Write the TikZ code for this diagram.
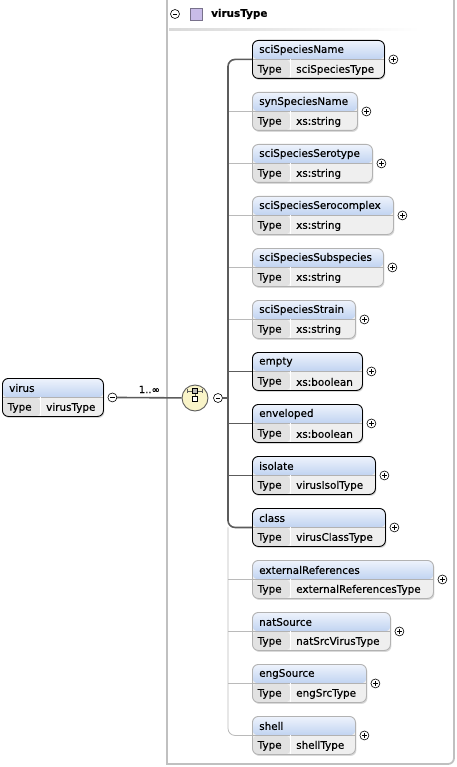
\documentclass[tikz,border=0pt]{standalone}
\usepackage{fontspec}
\setmainfont{DejaVu Sans}[FakeBold=0.35]
\definecolor{headtop}{RGB}{238,243,252}
\definecolor{headbot}{RGB}{192,211,241}
\definecolor{bodygray}{RGB}{239,239,239}
\definecolor{keygray}{RGB}{226,226,226}
\definecolor{optgray}{RGB}{178,178,178}
\definecolor{linedark}{RGB}{92,92,92}
\definecolor{linelight}{RGB}{186,186,186}
\definecolor{framegray}{RGB}{192,192,192}
\definecolor{seqyellow}{RGB}{249,244,200}
\definecolor{typepurple}{RGB}{200,188,232}
\usetikzlibrary{shadows, calc}

\tikzset{
  elembox/.style={rectangle, rounded corners=6pt, minimum height=38pt, inner sep=0pt, anchor=north west,
    line width=0.9pt, fill=bodygray, drop shadow={shadow xshift=1pt, shadow yshift=-1.5pt, opacity=0.3},
    path picture={
      \fill[keygray] (path picture bounding box.south west) rectangle ([xshift=38pt]path picture bounding box.west);
      \shade[top color=headtop, bottom color=headbot] (path picture bounding box.north west) rectangle (path picture bounding box.east);
      \draw[gray!60, line width=0.5pt] (path picture bounding box.west) -- (path picture bounding box.east);
      \draw[white, line width=0.7pt] ([xshift=38pt]path picture bounding box.south west) -- ([xshift=38pt]path picture bounding box.west);
    }},
  reqbox/.style={elembox, draw=black},
  optbox/.style={elembox, draw=optgray},
  elemtext/.style={anchor=west, inner sep=0pt, font=\fontsize{10.4pt}{12pt}\selectfont},
  plusmark/.style={circle, draw, line width=0.6pt, fill=white, inner sep=0pt, minimum size=9pt,
    path picture={
      \draw[line width=0.6pt] ([xshift=-2.3pt]path picture bounding box.center) -- ([xshift=2.3pt]path picture bounding box.center)
        ([yshift=-2.3pt]path picture bounding box.center) -- ([yshift=2.3pt]path picture bounding box.center);
    }},
  minusmark/.style={circle, draw, line width=0.6pt, fill=white, inner sep=0pt, minimum size=9pt,
    path picture={
      \draw[line width=0.6pt] ([xshift=-2.3pt]path picture bounding box.center) -- ([xshift=2.3pt]path picture bounding box.center);
    }},
  seqnode/.style={circle, draw=linedark, line width=0.9pt, fill=seqyellow, minimum size=26pt, inner sep=0pt,
    path picture={
      \coordinate (c) at (path picture bounding box.center);
      \draw[line width=0.6pt] ([shift={(-7.5pt,7pt)}]c) -- ([shift={(7.5pt,7pt)}]c)
        ([shift={(-7.5pt,5.3pt)}]c) -- ([shift={(-7.5pt,8.7pt)}]c)
        ([shift={(7.5pt,5.3pt)}]c) -- ([shift={(7.5pt,8.7pt)}]c)
        ([shift={(0pt,7pt)}]c) -- ([shift={(0pt,1.5pt)}]c);
      \filldraw[fill=gray!55, draw=black, line width=0.5pt] ([shift={(-2.5pt,4.5pt)}]c) rectangle ([shift={(2.5pt,9.5pt)}]c);
      \filldraw[fill=white, draw=black, line width=0.5pt] ([shift={(-2.5pt,-3.5pt)}]c) rectangle ([shift={(2.5pt,1.5pt)}]c);
    }},
  reqline/.style={draw=linedark, line width=1.6pt},
  optline/.style={draw=linelight, line width=0.8pt}
}

% element box: name, label, type, x, y, width, box style, mark style
\newcommand{\xsdelem}[8]{%
  \node[#7, minimum width=#6pt] (#1) at (#4,#5) {};
  \node[elemtext] (#1-name) at ([xshift=7pt,yshift=-10pt]#1.north west) {#2};
  \node[elemtext] (#1-key) at ([xshift=5.5pt,yshift=9pt]#1.south west) {Type};
  \node[elemtext] (#1-type) at ([xshift=44pt,yshift=9pt]#1.south west) {#3};
  \node[#8] (#1-exp) at ([xshift=8.5pt]#1.east) {};
}

\begin{document}
\begin{tikzpicture}[x=1pt, y=-1pt]
  \useasboundingbox (0,0) rectangle (456,767);

  % complex type frame
  \draw[framegray, line width=1.8pt] (167,-5) -- (167,764) -- (300,764) [rounded corners=6pt] -- (454,764) -- (454,-5);
  \node[minusmark] (hdr-exp) at (175,14) {};
  \node[draw=typepurple!60!black, fill=typepurple, line width=0.5pt, minimum size=12pt, inner sep=0pt] (hdr-icon) at (196,14) {};
  \node[elemtext, font=\fontsize{10.4pt}{12pt}\selectfont\bfseries] (hdr-name) at (211,14) {virusType};
  \shade[left color=gray!30, right color=white] (169,28.5) rectangle (420,30.5);

  % root element
  \xsdelem{virus}{virus}{virusType}{2}{378}{101}{reqbox}{minusmark}

  % sequence
  \node[seqnode] (seq) at (195,398) {};
  \node[minusmark] (seq-exp) at (218,398) {};
  \coordinate (bus) at (228,398);

  % children
  \xsdelem{sciname}{sciSpeciesName}{sciSpeciesType}{252}{40}{132}{reqbox}{plusmark}
  \xsdelem{synname}{synSpeciesName}{xs:string}{252}{92}{105}{optbox}{plusmark}
  \xsdelem{serotype}{sciSpeciesSerotype}{xs:string}{252}{144}{120}{optbox}{plusmark}
  \xsdelem{serocomplex}{sciSpeciesSerocomplex}{xs:string}{252}{196}{141}{optbox}{plusmark}
  \xsdelem{subspecies}{sciSpeciesSubspecies}{xs:string}{252}{248}{131}{optbox}{plusmark}
  \xsdelem{strain}{sciSpeciesStrain}{xs:string}{252}{300}{103}{optbox}{plusmark}
  \xsdelem{empty}{empty}{xs:boolean}{252}{352}{110}{reqbox}{plusmark}
  \xsdelem{enveloped}{enveloped}{xs:boolean}{252}{404}{110}{reqbox}{plusmark}
  \xsdelem{isolate}{isolate}{virusIsolType}{252}{456}{123}{reqbox}{plusmark}
  \xsdelem{class}{class}{virusClassType}{252}{508}{133}{reqbox}{plusmark}
  \xsdelem{extrefs}{externalReferences}{externalReferencesType}{252}{560}{181}{optbox}{plusmark}
  \xsdelem{natsource}{natSource}{natSrcVirusType}{252}{612}{138}{optbox}{plusmark}
  \xsdelem{engsource}{engSource}{engSrcType}{252}{664}{114}{optbox}{plusmark}
  \xsdelem{shell}{shell}{shellType}{252}{716}{103}{optbox}{plusmark}

  % optional connectors
  \draw[optline, rounded corners=7pt] (class.west -| bus) |- (shell.west);
  \foreach \e in {synname, serotype, serocomplex, subspecies, strain, extrefs, natsource, engsource}
    \draw[optline] (\e.west -| bus) -- (\e.west);

  % required connectors
  \draw[reqline, rounded corners=7pt] (sciname.west) -| (bus) |- (class.west);
  \foreach \e in {empty, enveloped, isolate}
    \draw[reqline] (\e.west -| bus) -- (\e.west);
  \draw[reqline] (seq-exp) -- (bus);
  \draw[reqline] (virus-exp) -- node[above=0.5pt, font=\fontsize{10pt}{11pt}\selectfont] (occurs) {1..∞} (seq);
\end{tikzpicture}
\end{document}
